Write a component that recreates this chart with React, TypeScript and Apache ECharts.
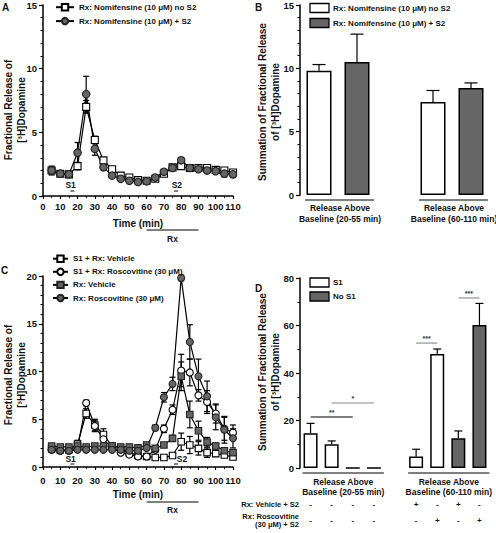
import React, { useEffect, useRef } from 'react';
import * as echarts from 'echarts';

const FONT = '"Liberation Sans", Arial, Helvetica, sans-serif';
const TEXT = '#111111';
const GREY = '#666666';

// ---------- data ----------
const times = [5, 10, 15, 20, 25, 30, 35, 40, 45, 50, 55, 60, 65, 70, 75, 80, 85, 90, 95, 100, 105, 110];
const xTicksMax = 110;

// Panel A
const aNames = ['Rx: Nomifensine (10 μM) no S2', 'Rx: Nomifensine (10 μM) + S2'];
const aNoS2 = [2.0, 1.75, 1.7, 2.35, 7.0, 4.4, 2.8, 2.1, 1.6, 1.45, 1.25, 1.2, 1.35, 1.75, 2.25, 2.35, 2.2, 2.2, 2.2, 2.05, 2.0, 1.85];
const aNoS2Err = [0.2, 0.1, 0.1, 0.3, 0.5, 0.3, 0.2, 0.1, 0.1, 0.1, 0.1, 0.1, 0.1, 0.1, 0.1, 0.1, 0.1, 0.1, 0.1, 0.1, 0.1, 0.1];
const aS2 = [2.0, 1.75, 1.7, 3.4, 8.0, 3.7, 2.25, 1.6, 1.35, 1.2, 1.1, 1.15, 1.45, 1.9, 2.2, 2.8, 2.2, 2.1, 2.0, 1.95, 1.75, 1.7];
const aS2Err = [0.35, 0.1, 0.1, 0.8, 1.4, 0.5, 0.2, 0.1, 0.1, 0.1, 0.1, 0.1, 0.1, 0.1, 0.1, 0.2, 0.1, 0.1, 0.1, 0.1, 0.25, 0.25];

// Panel B
const bNames = ['Rx: Nomifensine (10 μM) no S2', 'Rx: Nomifensine (10 μM) + S2'];
const bGroups = ['Release Above\nBaseline (20-55 min)', 'Release Above\nBaseline (60-110 min)'];
const bNoS2 = [9.8, 7.35];
const bNoS2Err = [0.5, 0.9];
const bS2 = [10.5, 8.45];
const bS2Err = [2.2, 0.4];

// Panel C
const cNames = ['S1 + Rx: Vehicle', 'S1 + Rx: Roscovitine (30 μM)', 'Rx: Vehicle', 'Rx: Roscovitine (30 μM)'];
const cS1Veh = [1.9, 1.8, 1.8, 2.4, 5.6, 4.4, 3.4, 2.2, 1.8, 1.5, 1.2, 1.1, 1.0, 1.0, 1.2, 2.65, 2.3, 1.95, 1.5, 1.4, 1.25, 1.05];
const cS1VehErr = [0.2, 0.1, 0.1, 0.4, 0.5, 0.6, 0.6, 0.2, 0.1, 0.1, 0.1, 0.1, 0.1, 0.1, 0.2, 0.9, 0.9, 0.7, 0.5, 0.3, 0.2, 0.2];
const cS1Ros = [1.8, 1.7, 1.7, 2.0, 6.7, 4.3, 2.9, 2.0, 1.5, 1.3, 1.1, 1.1, 1.8, 4.0, 6.0, 10.1, 9.9, 7.5, 6.8, 5.6, 4.0, 3.6];
const cS1RosErr = [0.2, 0.1, 0.1, 0.2, 0.3, 0.6, 0.7, 0.2, 0.1, 0.1, 0.1, 0.1, 0.2, 0.4, 0.5, 1.7, 1.4, 0.6, 1.2, 1.0, 1.2, 0.8];
const cVeh = [2.2, 2.1, 2.1, 2.2, 2.1, 2.2, 2.2, 2.2, 2.1, 2.1, 2.0, 2.3, 1.95, 2.3, 3.0, 9.5, 5.5, 3.8, 2.6, 2.2, 1.7, 1.5];
const cVehErr = [0.2, 0.2, 0.2, 0.2, 0.2, 0.2, 0.2, 0.2, 0.2, 0.2, 0.2, 0.2, 0.2, 0.2, 0.3, 1.5, 1.4, 1.0, 0.5, 0.3, 0.3, 0.2];
const cRos = [1.8, 1.7, 1.7, 1.8, 1.8, 1.8, 1.8, 1.8, 1.8, 1.7, 1.7, 2.0, 4.1, 7.3, 8.7, 19.8, 13.1, 9.5, 7.4, 5.2, 3.9, 3.0];
const cRosErr = [0.2, 0.1, 0.1, 0.1, 0.1, 0.1, 0.1, 0.1, 0.1, 0.1, 0.1, 0.2, 0.3, 0.5, 0.7, 0.3, 1.8, 1.8, 1.6, 1.3, 1.4, 1.0];

// Panel D
const dNames = ['S1', 'No S1'];
const dGroups = ['Release Above\nBaseline (20-55 min)', 'Release Above\nBaseline (60-110 min)'];
const dS1 = [14.6, 10.0, 4.8, 48.0];
const dS1Err = [4.2, 1.4, 3.1, 2.1];
const dNoS1 = [0, 0, 12.5, 60.2];
const dNoS1Err = [0, 0, 3.1, 9.1];
const dVehicleRow = ['-', '-', '-', '-', '+', '-', '+', '-'];
const dRoscoRow = ['-', '-', '-', '-', '-', '+', '-', '+'];
const dSig = [
  { from: 0, to: 2, level: 21.5, label: '**', dark: true },
  { from: 1, to: 3, level: 27.4, label: '*', dark: false },
  { from: 5, to: 6, level: 52.6, label: '***', dark: false },
  { from: 7, to: 8, level: 71.6, label: '***', dark: false },
];

// slot layout for bar panels (empty slot separates groups)
const bWhiteSlots = [0, 3];
const bGreySlots = [1, 4];
const bSlotCount = 5;
const dWhiteSlots = [0, 1, 5, 6];
const dGreySlots = [2, 3, 7, 8];
const dSlotCount = 9;
const dBarSlots = [0, 1, 2, 3, 5, 6, 7, 8];

// ---------- helpers ----------
const axisLine = { show: true, onZero: false, lineStyle: { color: '#000', width: 1.5 } };
const labelStyle = { color: TEXT, fontSize: 9.5, fontWeight: 'bold', fontFamily: FONT };

function timeAxis(gridIndex: number, margin: number) {
  return {
    type: 'value', gridIndex, min: 0, max: xTicksMax, interval: 10,
    axisLine,
    axisTick: { show: true, length: 3, lineStyle: { color: '#000', width: 1.2 } },
    minorTick: { show: true, splitNumber: 2, length: 2, lineStyle: { color: '#000', width: 1 } },
    splitLine: { show: false }, minorSplitLine: { show: false },
    axisLabel: { ...labelStyle, margin, hideOverlap: false },
  };
}
function valAxis(gridIndex: number, max: number, interval: number, minorSplit: number) {
  return {
    type: 'value', gridIndex, min: 0, max, interval,
    axisLine,
    axisTick: { show: true, length: 4, lineStyle: { color: '#000', width: 1.2 } },
    minorTick: { show: true, splitNumber: minorSplit, length: 2.5, lineStyle: { color: '#000', width: 1 } },
    splitLine: { show: false }, minorSplitLine: { show: false },
    axisLabel: { ...labelStyle, margin: 6 },
  };
}
function slotAxis(gridIndex: number, n: number) {
  return {
    type: 'category', gridIndex, data: Array.from({ length: n }, (_, i) => String(i)),
    show: false, boundaryGap: true,
  };
}

function lineSeries(name: string, vals: number[], idx: number, symbol: string, fill: string, size: number) {
  return {
    type: 'line', name, xAxisIndex: idx, yAxisIndex: idx,
    data: times.map((t, i) => [t, vals[i]]),
    symbol, symbolSize: size, showAllSymbol: true,
    lineStyle: { color: '#000', width: 1.2 },
    itemStyle: { color: fill, borderColor: fill === '#ffffff' ? '#000' : '#222', borderWidth: 1.1 },
    emphasis: { disabled: true }, silent: true, z: 3,
  };
}

function errorRender(capW: number, both: boolean) {
  return (params: any, api: any) => {
    const x = api.value(0);
    const lo = api.value(1);
    const hi = api.value(2);
    const pLo = api.coord([x, lo]);
    const pHi = api.coord([x, hi]);
    const st = { stroke: '#000', lineWidth: 1.2 };
    const children: any[] = [
      { type: 'line', shape: { x1: pLo[0], y1: pLo[1], x2: pHi[0], y2: pHi[1] }, style: st },
      { type: 'line', shape: { x1: pHi[0] - capW / 2, y1: pHi[1], x2: pHi[0] + capW / 2, y2: pHi[1] }, style: st },
    ];
    if (both) {
      children.push({ type: 'line', shape: { x1: pLo[0] - capW / 2, y1: pLo[1], x2: pLo[0] + capW / 2, y2: pLo[1] }, style: st });
    }
    return { type: 'group', children };
  };
}

function lineErr(vals: number[], errs: number[], idx: number) {
  return {
    type: 'custom', xAxisIndex: idx, yAxisIndex: idx, silent: true, z: 2,
    renderItem: errorRender(6, true),
    encode: { x: 0, y: [1, 2] },
    data: times.map((t, i) => [t, vals[i] - errs[i], vals[i] + errs[i]]),
  };
}

function barSeries(name: string, vals: number[], slots: number[], n: number, idx: number, fill: string, width: number) {
  const data: any[] = Array.from({ length: n }, () => '-');
  slots.forEach((s, i) => { data[s] = vals[i]; });
  return {
    type: 'bar', name, xAxisIndex: idx, yAxisIndex: idx, data,
    barWidth: width, barGap: '-100%',
    itemStyle: { color: fill, borderColor: '#000', borderWidth: 1.5 },
    emphasis: { disabled: true }, silent: true, z: 2,
  };
}

function barErr(vals: number[], errs: number[], slots: number[], idx: number, capW: number) {
  const data = slots.map((s, i) => [s, vals[i], vals[i] + errs[i]]).filter((d, i) => errs[i] > 0);
  return {
    type: 'custom', xAxisIndex: idx, yAxisIndex: idx, silent: true, z: 3,
    renderItem: errorRender(capW, false),
    encode: { x: 0, y: [1, 2] },
    data,
  };
}

function txt(text: string, x: number, y: number, size: number, o: any = {}) {
  return {
    type: 'text', x, y, rotation: o.rot || 0, silent: true, z: 10,
    style: {
      text, fill: o.fill || TEXT, fontSize: size, fontWeight: 'bold', fontFamily: FONT,
      align: o.align || 'center', verticalAlign: o.va || 'middle', lineHeight: o.lh || size * 1.2,
    },
  };
}
function ln(x1: number, y1: number, x2: number, y2: number, stroke = '#000', w = 1.1) {
  return { type: 'line', silent: true, z: 10, shape: { x1, y1, x2, y2 }, style: { stroke, lineWidth: w } };
}
function box(x: number, y: number, w: number, h: number, fill: string) {
  return { type: 'rect', silent: true, z: 10, shape: { x, y, width: w, height: h }, style: { fill, stroke: '#000', lineWidth: 1.3 } };
}

const App: React.FC = () => {
  const ref = useRef<HTMLDivElement>(null);

  useEffect(() => {
    if (!ref.current) return;
    const chart = echarts.init(ref.current, null, { renderer: 'svg' });

    const option: any = {
      animation: false,
      backgroundColor: '#ffffff',
      textStyle: { fontFamily: FONT },
      grid: [
        { left: 43, top: 5, width: 190, height: 191 },
        { left: 300, top: 5, width: 190, height: 190 },
        { left: 43, top: 276, width: 190, height: 191 },
        { left: 300, top: 278, width: 190, height: 190 },
      ],
      xAxis: [timeAxis(0, 5), slotAxis(1, bSlotCount), timeAxis(2, 8), slotAxis(3, dSlotCount)],
      yAxis: [valAxis(0, 15, 5, 5), valAxis(1, 15, 5, 5), valAxis(2, 20, 5, 5), valAxis(3, 80, 20, 2)],
      legend: [
        {
          data: aNames, left: 55, top: 3, orient: 'vertical', itemWidth: 18, itemHeight: 8, itemGap: 5.5,
          selectedMode: false, textStyle: { color: TEXT, fontSize: 8, fontWeight: 'bold', fontFamily: FONT }, padding: 0,
        },
        {
          data: cNames, left: 52, top: 254.5, orient: 'vertical', itemWidth: 15, itemHeight: 8, itemGap: 4.7,
          selectedMode: false, textStyle: { color: TEXT, fontSize: 8, fontWeight: 'bold', fontFamily: FONT }, padding: 0,
        },
      ],
      series: [
        lineErr(aNoS2, aNoS2Err, 0),
        lineErr(aS2, aS2Err, 0),
        lineSeries(aNames[0], aNoS2, 0, 'rect', '#ffffff', 7),
        lineSeries(aNames[1], aS2, 0, 'circle', GREY, 7.5),

        barSeries('B ' + bNames[0], bNoS2, bWhiteSlots, bSlotCount, 1, '#ffffff', 25),
        barSeries('B ' + bNames[1], bS2, bGreySlots, bSlotCount, 1, GREY, 25),
        barErr(bNoS2, bNoS2Err, bWhiteSlots, 1, 13),
        barErr(bS2, bS2Err, bGreySlots, 1, 13),

        lineErr(cS1Veh, cS1VehErr, 2),
        lineErr(cS1Ros, cS1RosErr, 2),
        lineErr(cVeh, cVehErr, 2),
        lineErr(cRos, cRosErr, 2),
        lineSeries(cNames[0], cS1Veh, 2, 'rect', '#ffffff', 6.5),
        lineSeries(cNames[1], cS1Ros, 2, 'circle', '#ffffff', 7),
        lineSeries(cNames[2], cVeh, 2, 'rect', GREY, 6.5),
        lineSeries(cNames[3], cRos, 2, 'circle', GREY, 7),

        barSeries('D ' + dNames[0], dS1, dWhiteSlots, dSlotCount, 3, '#ffffff', 14),
        barSeries('D ' + dNames[1], dNoS1, dGreySlots, dSlotCount, 3, GREY, 14),
        barErr(dS1, dS1Err, dWhiteSlots, 3, 8),
        barErr(dNoS1, dNoS1Err, dGreySlots, 3, 8),
      ],
    };
    chart.setOption(option);

    const px = (ax: number, v: number) => chart.convertToPixel({ xAxisIndex: ax } as any, v) as number;
    const py = (ax: number, v: number) => chart.convertToPixel({ yAxisIndex: ax } as any, v) as number;

    const g: any[] = [];
    // panel letters
    g.push(txt('A', 2, 1, 10, { align: 'left', va: 'top' }));
    g.push(txt('B', 255, 1, 10, { align: 'left', va: 'top' }));
    g.push(txt('C', 1, 264, 10, { align: 'left', va: 'top' }));
    g.push(txt('D', 255, 282, 10, { align: 'left', va: 'top' }));

    // y axis titles
    g.push(txt('Fractional Release of\n[³H]Dopamine', 14.5, 110, 10, { rot: Math.PI / 2, lh: 13 }));
    g.push(txt('Summation of Fractional Release\nof [³H]Dopamine', 268.5, 102, 10, { rot: Math.PI / 2, lh: 13 }));
    g.push(txt('Fractional Release of\n[³H]Dopamine', 14.5, 375, 10, { rot: Math.PI / 2, lh: 13 }));
    g.push(txt('Summation of Fractional Release\nof [³H]Dopamine', 268.5, 372, 10, { rot: Math.PI / 2, lh: 13 }));

    // time panels: x title, Rx bar, stimulation marks
    const timeAnno = (ax: number, titleY: number, rxY: number, rxTextY: number, sY: number, dashY: number, s2TextT: number) => {
      g.push(txt('Time (min)', (px(ax, 0) + px(ax, 110)) / 2, titleY, 10));
      g.push(ln(px(ax, 60), rxY, px(ax, 90), rxY, '#000', 1));
      g.push(txt('Rx', px(ax, 75), rxTextY, 8.5));
      g.push(txt('S1', px(ax, 16), sY, 8.5));
      g.push(txt('S2', px(ax, s2TextT), sY, 8.5));
      g.push(ln(px(ax, 17) - 2, dashY, px(ax, 17) + 2, dashY, '#000', 1));
      g.push(ln(px(ax, 77) - 2, dashY, px(ax, 77) + 2, dashY, '#000', 1));
    };
    timeAnno(0, 223, 230, 239, 185, 191, 77.5);
    timeAnno(2, 494, 502, 510, 458.5, 464, 80.5);

    // panel B legend
    g.push(box(310, 3.5, 19, 9, '#ffffff'));
    g.push(txt(bNames[0], 333, 8, 8, { align: 'left' }));
    g.push(box(310, 18.5, 19, 9, GREY));
    g.push(txt(bNames[1], 333, 23, 8, { align: 'left' }));

    // panel B group labels
    const bGroupSlots = [[0, 1], [3, 4]];
    bGroupSlots.forEach((sl, gi) => {
      const a = px(1, sl[0]);
      const b = px(1, sl[1]);
      g.push(ln(a - 14, 200, b + 17, 200, '#000', 1));
      g.push(txt(bGroups[gi], (a + b) / 2 + 2, 213.5, 8.5, { lh: 10.7 }));
    });

    // panel D legend
    g.push(box(310, 278, 19, 9, '#ffffff'));
    g.push(txt(dNames[0], 333, 282.5, 8, { align: 'left' }));
    g.push(box(310, 292, 19, 9, GREY));
    g.push(txt(dNames[1], 333, 296.5, 8, { align: 'left' }));

    // panel D group labels
    const dGroupSlots = [[0, 3], [5, 8]];
    dGroupSlots.forEach((sl, gi) => {
      const a = px(3, sl[0]);
      const b = px(3, sl[1]);
      g.push(ln(a - 8, 473, b + 10, 473, '#000', 1));
      g.push(txt(dGroups[gi], (a + b) / 2 + 1, 486.5, 8.5, { lh: 10 }));
    });

    // significance brackets
    dSig.forEach((s) => {
      const x1 = px(3, s.from);
      const x2 = px(3, s.to);
      const y = py(3, s.level);
      const col = s.dark ? '#000' : '#888';
      g.push(ln(x1, y, x2, y, col, 1.1));
      g.push(txt(s.label, (x1 + x2) / 2, y - 4.5, 7, { fill: '#333' }));
    });

    // treatment rows
    g.push(txt('Rx: Vehicle + S2', 299, 504, 7.5, { align: 'right' }));
    g.push(txt('Rx: Roscovitine\n(30 μM) + S2', 299, 520.5, 7.5, { align: 'right', lh: 8 }));
    dBarSlots.forEach((s, i) => {
      g.push(txt(dVehicleRow[i], px(3, s), 504, 8));
      g.push(txt(dRoscoRow[i], px(3, s), 520.5, 8));
    });

    chart.setOption({ graphic: { elements: g } });

    return () => chart.dispose();
  }, []);

  return (
    <div
      ref={ref}
      style={{ position: 'absolute', left: 0, top: 0, width: 496, height: 533, background: '#fff' }}
    />
  );
};

export default App;
